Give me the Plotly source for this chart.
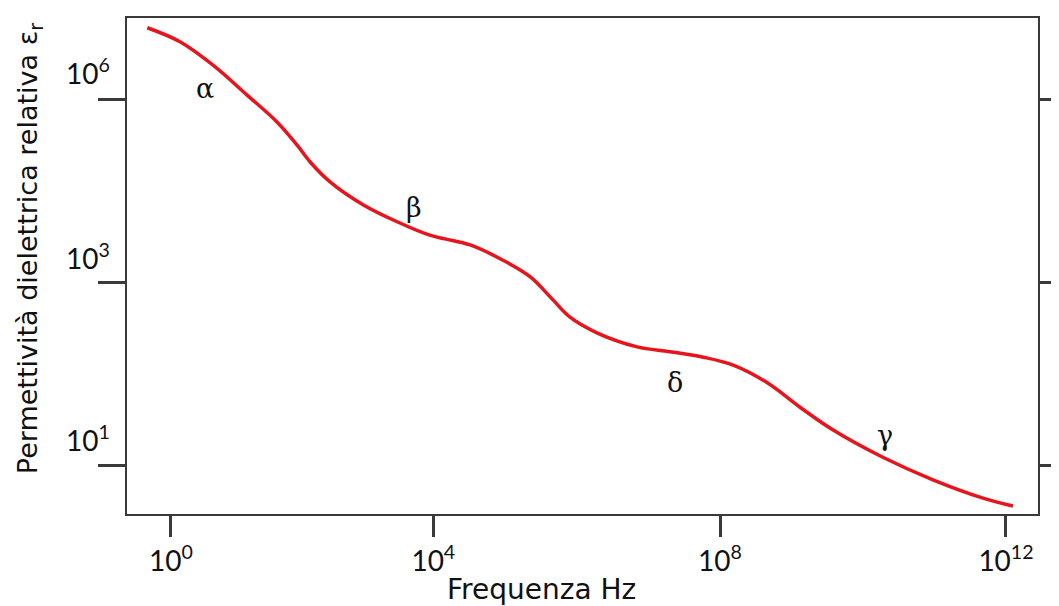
import plotly.graph_objects as go

# Schematic axis positions (decade positions as drawn in the figure)
freq_pos = [-0.34, 0.13, 0.60, 1.09, 1.52, 1.81, 2.00, 2.29, 2.76, 3.25, 3.72, 3.94,
            4.30, 4.77, 5.16, 5.49, 5.73, 6.12, 6.70, 7.17, 7.65, 8.08, 8.57, 9.04,
            9.51, 10.23, 10.95, 11.67, 12.10]
eps_pos = [7.97, 7.74, 7.36, 6.87, 6.43, 6.05, 5.77, 5.44, 5.07, 4.79, 4.57, 4.51,
           4.41, 4.16, 3.89, 3.51, 3.23, 2.97, 2.74, 2.66, 2.57, 2.44, 2.15, 1.75,
           1.38, 0.93, 0.56, 0.26, 0.13]

x_tick_pos = [0, 3.77, 7.89, 12]
x_tick_text = ["10<sup>0</sup>", "10<sup>4</sup>", "10<sup>8</sup>", "10<sup>12</sup>"]
y_tick_pos = [0.80, 3.80, 6.80]
y_label_pos = [1.24, 4.22, 7.26]
y_tick_text = ["10<sup>1</sup>", "10<sup>3</sup>", "10<sup>6</sup>"]

region_names = ["α", "β", "δ", "γ"]
region_x = [0.49, 3.49, 7.24, 10.26]
region_y = [6.98, 5.03, 2.15, 1.28]

X_TITLE = "Frequenza Hz"
Y_TITLE = "Permettività dielettrica relativa ε<sub>r</sub>"

X_RANGE = [-0.632, 12.46]
Y_RANGE = [0, 8.13]

AXCOL = "#3a3a3a"
TICKFONT = dict(family="Lato", size=28, color="#111")

fig = go.Figure()
fig.add_trace(go.Scatter(x=freq_pos, y=eps_pos, mode="lines",
                         line=dict(color="#e8141b", width=3.5, shape="spline", smoothing=1.0),
                         showlegend=False, hoverinfo="skip"))

for name, gx, gy in zip(region_names, region_x, region_y):
    fig.add_annotation(x=gx, y=gy, xref="x", yref="y", text=name, showarrow=False,
                       font=dict(family="DejaVu Serif", size=27, color="#111"))

for txt, ly in zip(y_tick_text, y_label_pos):
    fig.add_annotation(x=0, xref="paper", y=ly, yref="y", text=txt, showarrow=False,
                       xanchor="right", xshift=-15, font=TICKFONT)

fig.add_annotation(x=0.4555, xref="paper", y=-0.153, yref="paper", text=X_TITLE,
                   showarrow=False, xanchor="center", yanchor="middle",
                   font=dict(family="DejaVu Sans", size=28, color="#111"))
fig.add_annotation(x=-0.107, xref="paper", y=0.535, yref="paper", text=Y_TITLE,
                   showarrow=False, textangle=-90, xanchor="center", yanchor="middle",
                   font=dict(family="DejaVu Sans", size=27, color="#111"))

# page body has an 8px default margin: compensate so the plot box lands where intended
fig.update_layout(
    width=1051, height=598,
    margin=dict(l=119, r=21, t=10, b=92),
    paper_bgcolor="white", plot_bgcolor="white",
    xaxis=dict(range=X_RANGE, tickvals=x_tick_pos, ticktext=x_tick_text,
               ticks="outside", ticklen=21, tickwidth=3, tickcolor=AXCOL,
               showline=True, linecolor=AXCOL, linewidth=2, mirror=True,
               showgrid=False, zeroline=False, tickfont=TICKFONT, automargin=False),
    yaxis=dict(range=Y_RANGE, tickvals=y_tick_pos, showticklabels=False,
               ticks="outside", ticklen=27, tickwidth=3, tickcolor=AXCOL,
               showline=True, linecolor=AXCOL, linewidth=2, mirror="ticks",
               showgrid=False, zeroline=False, automargin=False),
)

fig.write_html("out.html")
